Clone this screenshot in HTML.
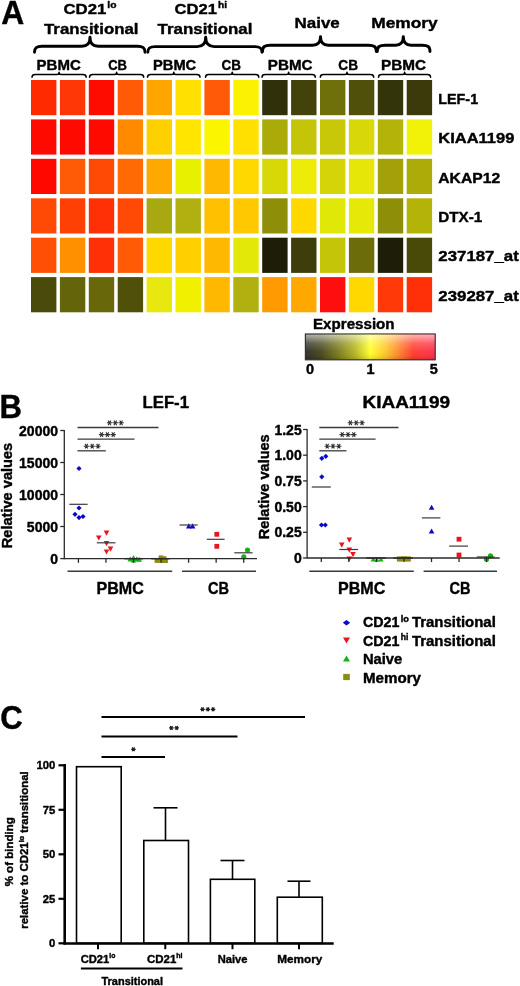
<!DOCTYPE html>
<html><head><meta charset="utf-8"><title>Figure</title>
<style>
html,body{margin:0;padding:0;background:#fff;}
svg{display:block;font-family:"Liberation Sans", sans-serif;font-weight:bold;will-change:transform;}
text{stroke:#000;stroke-width:0.4px;stroke-linejoin:round;}
</style></head>
<body>
<svg width="520" height="986" viewBox="0 0 520 986">
<defs>
<linearGradient id="cb" x1="0" x2="1" y1="0" y2="0">
<stop offset="0" stop-color="#2c2c24"/>
<stop offset="0.12" stop-color="#45451c"/>
<stop offset="0.25" stop-color="#78781c"/>
<stop offset="0.38" stop-color="#b4b420"/>
<stop offset="0.50" stop-color="#ffff28"/>
<stop offset="0.62" stop-color="#ffc428"/>
<stop offset="0.72" stop-color="#ff8428"/>
<stop offset="0.83" stop-color="#ff3a2c"/>
<stop offset="1" stop-color="#ff2c4a"/>
</linearGradient>
<linearGradient id="gloss" x1="0" x2="0" y1="0" y2="1">
<stop offset="0" stop-color="#fff" stop-opacity="0.62"/>
<stop offset="0.35" stop-color="#fff" stop-opacity="0.22"/>
<stop offset="0.7" stop-color="#fff" stop-opacity="0.04"/>
<stop offset="1" stop-color="#000" stop-opacity="0.12"/>
</linearGradient>
</defs>
<rect width="520" height="986" fill="#fff"/>
<rect x="31.0" y="80.0" width="25.4" height="35.2" fill="#FF2A00"/>
<rect x="59.9" y="80.0" width="25.4" height="35.2" fill="#FF3605"/>
<rect x="88.8" y="80.0" width="25.4" height="35.2" fill="#FF0C00"/>
<rect x="117.7" y="80.0" width="25.4" height="35.2" fill="#FF5A05"/>
<rect x="146.6" y="80.0" width="25.4" height="35.2" fill="#FFA500"/>
<rect x="175.5" y="80.0" width="25.4" height="35.2" fill="#FFE000"/>
<rect x="204.4" y="80.0" width="25.4" height="35.2" fill="#FF5A08"/>
<rect x="233.3" y="80.0" width="25.4" height="35.2" fill="#FCF200"/>
<rect x="262.2" y="80.0" width="25.4" height="35.2" fill="#30300A"/>
<rect x="291.1" y="80.0" width="25.4" height="35.2" fill="#42420A"/>
<rect x="320.0" y="80.0" width="25.4" height="35.2" fill="#70700A"/>
<rect x="348.9" y="80.0" width="25.4" height="35.2" fill="#50500A"/>
<rect x="377.8" y="80.0" width="25.4" height="35.2" fill="#34340A"/>
<rect x="406.7" y="80.0" width="25.4" height="35.2" fill="#3A3A0A"/>
<rect x="31.0" y="119.4" width="25.4" height="35.2" fill="#FF0A00"/>
<rect x="59.9" y="119.4" width="25.4" height="35.2" fill="#FF0A00"/>
<rect x="88.8" y="119.4" width="25.4" height="35.2" fill="#FF0A00"/>
<rect x="117.7" y="119.4" width="25.4" height="35.2" fill="#FF8A00"/>
<rect x="146.6" y="119.4" width="25.4" height="35.2" fill="#FFD000"/>
<rect x="175.5" y="119.4" width="25.4" height="35.2" fill="#FFE500"/>
<rect x="204.4" y="119.4" width="25.4" height="35.2" fill="#FBF600"/>
<rect x="233.3" y="119.4" width="25.4" height="35.2" fill="#FFE000"/>
<rect x="262.2" y="119.4" width="25.4" height="35.2" fill="#AAAA08"/>
<rect x="291.1" y="119.4" width="25.4" height="35.2" fill="#C4C408"/>
<rect x="320.0" y="119.4" width="25.4" height="35.2" fill="#C8C808"/>
<rect x="348.9" y="119.4" width="25.4" height="35.2" fill="#D8D808"/>
<rect x="377.8" y="119.4" width="25.4" height="35.2" fill="#B4B408"/>
<rect x="406.7" y="119.4" width="25.4" height="35.2" fill="#F2F208"/>
<rect x="31.0" y="158.8" width="25.4" height="35.2" fill="#FF0800"/>
<rect x="59.9" y="158.8" width="25.4" height="35.2" fill="#FF5A05"/>
<rect x="88.8" y="158.8" width="25.4" height="35.2" fill="#FF4A05"/>
<rect x="117.7" y="158.8" width="25.4" height="35.2" fill="#FF6A05"/>
<rect x="146.6" y="158.8" width="25.4" height="35.2" fill="#FFA800"/>
<rect x="175.5" y="158.8" width="25.4" height="35.2" fill="#E8F000"/>
<rect x="204.4" y="158.8" width="25.4" height="35.2" fill="#FFB800"/>
<rect x="233.3" y="158.8" width="25.4" height="35.2" fill="#FFD800"/>
<rect x="262.2" y="158.8" width="25.4" height="35.2" fill="#D8D808"/>
<rect x="291.1" y="158.8" width="25.4" height="35.2" fill="#ECEC08"/>
<rect x="320.0" y="158.8" width="25.4" height="35.2" fill="#D4D408"/>
<rect x="348.9" y="158.8" width="25.4" height="35.2" fill="#E6E608"/>
<rect x="377.8" y="158.8" width="25.4" height="35.2" fill="#A2A208"/>
<rect x="406.7" y="158.8" width="25.4" height="35.2" fill="#ACAC08"/>
<rect x="31.0" y="198.3" width="25.4" height="35.2" fill="#FF4A05"/>
<rect x="59.9" y="198.3" width="25.4" height="35.2" fill="#FF4005"/>
<rect x="88.8" y="198.3" width="25.4" height="35.2" fill="#FF3005"/>
<rect x="117.7" y="198.3" width="25.4" height="35.2" fill="#FF4A05"/>
<rect x="146.6" y="198.3" width="25.4" height="35.2" fill="#A8A810"/>
<rect x="175.5" y="198.3" width="25.4" height="35.2" fill="#B0B010"/>
<rect x="204.4" y="198.3" width="25.4" height="35.2" fill="#FFC000"/>
<rect x="233.3" y="198.3" width="25.4" height="35.2" fill="#FFC800"/>
<rect x="262.2" y="198.3" width="25.4" height="35.2" fill="#8E8E08"/>
<rect x="291.1" y="198.3" width="25.4" height="35.2" fill="#FFD800"/>
<rect x="320.0" y="198.3" width="25.4" height="35.2" fill="#E0E808"/>
<rect x="348.9" y="198.3" width="25.4" height="35.2" fill="#E6E808"/>
<rect x="377.8" y="198.3" width="25.4" height="35.2" fill="#8E8E08"/>
<rect x="406.7" y="198.3" width="25.4" height="35.2" fill="#B4B408"/>
<rect x="31.0" y="237.7" width="25.4" height="35.2" fill="#FF5005"/>
<rect x="59.9" y="237.7" width="25.4" height="35.2" fill="#FF9000"/>
<rect x="88.8" y="237.7" width="25.4" height="35.2" fill="#FF3005"/>
<rect x="117.7" y="237.7" width="25.4" height="35.2" fill="#FF5A05"/>
<rect x="146.6" y="237.7" width="25.4" height="35.2" fill="#FFD800"/>
<rect x="175.5" y="237.7" width="25.4" height="35.2" fill="#FFD000"/>
<rect x="204.4" y="237.7" width="25.4" height="35.2" fill="#FFB800"/>
<rect x="233.3" y="237.7" width="25.4" height="35.2" fill="#E4E808"/>
<rect x="262.2" y="237.7" width="25.4" height="35.2" fill="#1E1E08"/>
<rect x="291.1" y="237.7" width="25.4" height="35.2" fill="#3E3E0A"/>
<rect x="320.0" y="237.7" width="25.4" height="35.2" fill="#C4C408"/>
<rect x="348.9" y="237.7" width="25.4" height="35.2" fill="#6C6C0A"/>
<rect x="377.8" y="237.7" width="25.4" height="35.2" fill="#1E1E08"/>
<rect x="406.7" y="237.7" width="25.4" height="35.2" fill="#4A4A08"/>
<rect x="31.0" y="277.1" width="25.4" height="35.2" fill="#4A4A0A"/>
<rect x="59.9" y="277.1" width="25.4" height="35.2" fill="#64640A"/>
<rect x="88.8" y="277.1" width="25.4" height="35.2" fill="#68680A"/>
<rect x="117.7" y="277.1" width="25.4" height="35.2" fill="#50500A"/>
<rect x="146.6" y="277.1" width="25.4" height="35.2" fill="#E8E810"/>
<rect x="175.5" y="277.1" width="25.4" height="35.2" fill="#F0F000"/>
<rect x="204.4" y="277.1" width="25.4" height="35.2" fill="#FFB800"/>
<rect x="233.3" y="277.1" width="25.4" height="35.2" fill="#B0B010"/>
<rect x="262.2" y="277.1" width="25.4" height="35.2" fill="#FF9A00"/>
<rect x="291.1" y="277.1" width="25.4" height="35.2" fill="#FFA800"/>
<rect x="320.0" y="277.1" width="25.4" height="35.2" fill="#FF0E0E"/>
<rect x="348.9" y="277.1" width="25.4" height="35.2" fill="#FFD800"/>
<rect x="377.8" y="277.1" width="25.4" height="35.2" fill="#FF3A08"/>
<rect x="406.7" y="277.1" width="25.4" height="35.2" fill="#FF3008"/>
<text x="438.3" y="103.7" font-size="14.5" text-anchor="start" fill="#000" textLength="39.8" lengthAdjust="spacingAndGlyphs">LEF-1</text>
<text x="438.3" y="143.12" font-size="14.5" text-anchor="start" fill="#000" textLength="76" lengthAdjust="spacingAndGlyphs">KIAA1199</text>
<text x="438.3" y="182.54000000000002" font-size="14.5" text-anchor="start" fill="#000" textLength="61.8" lengthAdjust="spacingAndGlyphs">AKAP12</text>
<text x="438.3" y="221.96" font-size="14.5" text-anchor="start" fill="#000" textLength="44" lengthAdjust="spacingAndGlyphs">DTX-1</text>
<text x="438.3" y="261.38" font-size="14.5" text-anchor="start" fill="#000" textLength="80.5" lengthAdjust="spacingAndGlyphs">237187_at</text>
<text x="438.3" y="300.8" font-size="14.5" text-anchor="start" fill="#000" textLength="80.5" lengthAdjust="spacingAndGlyphs">239287_at</text>
<text x="1.3" y="24.2" font-size="33" text-anchor="start" fill="#000" textLength="23" lengthAdjust="spacingAndGlyphs">A</text>
<text x="63.5" y="13.9" font-size="15.5" textLength="53" lengthAdjust="spacingAndGlyphs">CD21<tspan font-size="9.5" dy="-6" dx="1">lo</tspan></text>
<text x="44" y="34" font-size="15.5" text-anchor="start" fill="#000" textLength="94.5" lengthAdjust="spacingAndGlyphs">Transitional</text>
<text x="174.6" y="13.9" font-size="15.5" textLength="52.5" lengthAdjust="spacingAndGlyphs">CD21<tspan font-size="9.5" dy="-6" dx="1">hi</tspan></text>
<text x="157.6" y="34" font-size="15.5" text-anchor="start" fill="#000" textLength="94.8" lengthAdjust="spacingAndGlyphs">Transitional</text>
<text x="294.5" y="27.5" font-size="15.5" text-anchor="start" fill="#000" textLength="45.3" lengthAdjust="spacingAndGlyphs">Naive</text>
<text x="371.2" y="27.5" font-size="15.5" text-anchor="start" fill="#000" textLength="66.5" lengthAdjust="spacingAndGlyphs">Memory</text>
<path d="M34.5,52.3 C34.5,47.5 36.8,46.3 42.0,46.3 L81.9,46.3 C87.2,46.3 90.0,43.1 90.0,37.3 C90.0,43.1 92.8,46.3 98.1,46.3 L137.5,46.3 C142.8,46.3 145.0,47.5 145.0,52.3" fill="none" stroke="#000" stroke-width="2.9" stroke-linecap="round" stroke-linejoin="round"/>
<path d="M147.8,52.3 C147.8,47.7 149.9,46.6 154.9,46.6 L197.3,46.6 C202.8,46.6 205.7,43.3 205.7,37.3 C205.7,43.3 208.6,46.6 214.1,46.6 L254.9,46.6 C259.9,46.6 262.0,47.7 262.0,52.3" fill="none" stroke="#000" stroke-width="2.9" stroke-linecap="round" stroke-linejoin="round"/>
<path d="M262.5,51.5 C262.5,46.5 264.8,45.3 270.2,45.3 L312.7,45.3 C317.8,45.3 320.5,42.3 320.5,36.6 C320.5,42.3 323.2,45.3 328.3,45.3 L368.6,45.3 C374.0,45.3 376.3,46.5 376.3,51.5" fill="none" stroke="#000" stroke-width="2.9" stroke-linecap="round" stroke-linejoin="round"/>
<path d="M377.3,51.5 C377.3,46.5 379.6,45.3 385.1,45.3 L395.5,45.3 C400.6,45.3 403.3,42.3 403.3,36.6 C403.3,42.3 406.0,45.3 411.1,45.3 L422.2,45.3 C427.7,45.3 430.0,46.5 430.0,51.5" fill="none" stroke="#000" stroke-width="2.9" stroke-linecap="round" stroke-linejoin="round"/>
<text x="36.6" y="69.6" font-size="14.5" text-anchor="start" fill="#000" textLength="44.2" lengthAdjust="spacingAndGlyphs">PBMC</text>
<text x="108.2" y="69.6" font-size="14.5" text-anchor="start" fill="#000" textLength="18.8" lengthAdjust="spacingAndGlyphs">CB</text>
<text x="153" y="69.6" font-size="14.5" text-anchor="start" fill="#000" textLength="43.2" lengthAdjust="spacingAndGlyphs">PBMC</text>
<text x="221.6" y="69.6" font-size="14.5" text-anchor="start" fill="#000" textLength="19.4" lengthAdjust="spacingAndGlyphs">CB</text>
<text x="267.8" y="69.6" font-size="14.5" text-anchor="start" fill="#000" textLength="44.7" lengthAdjust="spacingAndGlyphs">PBMC</text>
<text x="338.3" y="69.6" font-size="14.5" text-anchor="start" fill="#000" textLength="19.7" lengthAdjust="spacingAndGlyphs">CB</text>
<text x="381" y="69.6" font-size="14.5" text-anchor="start" fill="#000" textLength="45" lengthAdjust="spacingAndGlyphs">PBMC</text>
<path d="M32.0,77.2 C32.0,75.1 33.0,74.6 35.3,74.6 L57.0,74.6 C58.4,74.6 59.1,73.8 59.1,72.3 C59.1,73.8 59.8,74.6 61.2,74.6 L82.9,74.6 C85.2,74.6 86.2,75.1 86.2,77.2" fill="none" stroke="#000" stroke-width="1.5" stroke-linecap="round" stroke-linejoin="round"/>
<path d="M89.5,77.2 C89.5,75.1 90.5,74.6 92.8,74.6 L114.5,74.6 C115.9,74.6 116.6,73.8 116.6,72.3 C116.6,73.8 117.3,74.6 118.7,74.6 L140.4,74.6 C142.7,74.6 143.7,75.1 143.7,77.2" fill="none" stroke="#000" stroke-width="1.5" stroke-linecap="round" stroke-linejoin="round"/>
<path d="M147.5,77.2 C147.5,75.1 148.5,74.6 150.8,74.6 L171.7,74.6 C173.0,74.6 173.8,73.8 173.8,72.3 C173.8,73.8 174.5,74.6 175.8,74.6 L196.8,74.6 C199.0,74.6 200.0,75.1 200.0,77.2" fill="none" stroke="#000" stroke-width="1.5" stroke-linecap="round" stroke-linejoin="round"/>
<path d="M205.5,77.2 C205.5,75.1 206.5,74.6 208.8,74.6 L230.1,74.6 C231.4,74.6 232.2,73.8 232.2,72.3 C232.2,73.8 232.9,74.6 234.2,74.6 L255.6,74.6 C257.8,74.6 258.8,75.1 258.8,77.2" fill="none" stroke="#000" stroke-width="1.5" stroke-linecap="round" stroke-linejoin="round"/>
<path d="M262.0,77.2 C262.0,75.1 263.0,74.6 265.2,74.6 L286.6,74.6 C287.9,74.6 288.6,73.8 288.6,72.3 C288.6,73.8 289.4,74.6 290.7,74.6 L312.1,74.6 C314.3,74.6 315.3,75.1 315.3,77.2" fill="none" stroke="#000" stroke-width="1.5" stroke-linecap="round" stroke-linejoin="round"/>
<path d="M320.3,77.2 C320.3,75.1 321.3,74.6 323.6,74.6 L344.9,74.6 C346.3,74.6 347.0,73.8 347.0,72.3 C347.0,73.8 347.7,74.6 349.1,74.6 L370.4,74.6 C372.7,74.6 373.7,75.1 373.7,77.2" fill="none" stroke="#000" stroke-width="1.5" stroke-linecap="round" stroke-linejoin="round"/>
<path d="M378.5,77.2 C378.5,75.1 379.5,74.6 381.8,74.6 L402.5,74.6 C403.8,74.6 404.6,73.8 404.6,72.3 C404.6,73.8 405.3,74.6 406.6,74.6 L427.4,74.6 C429.6,74.6 430.6,75.1 430.6,77.2" fill="none" stroke="#000" stroke-width="1.5" stroke-linecap="round" stroke-linejoin="round"/>
<text x="313" y="328.6" font-size="14.5" text-anchor="start" fill="#000" textLength="81.6" lengthAdjust="spacingAndGlyphs">Expression</text>
<rect x="305.4" y="334" width="129.8" height="25.8" fill="url(#cb)" stroke="#333" stroke-width="1.2"/>
<rect x="306" y="334.6" width="128.6" height="24.6" fill="url(#gloss)"/>
<text x="310" y="373.8" font-size="14.5" text-anchor="middle" fill="#000">0</text>
<text x="370.6" y="373.8" font-size="14.5" text-anchor="middle" fill="#000">1</text>
<text x="433.7" y="373.8" font-size="14.5" text-anchor="middle" fill="#000">5</text>
<text x="-0.5" y="417.7" font-size="33" text-anchor="start" fill="#000" textLength="22.5" lengthAdjust="spacingAndGlyphs">B</text>
<text x="58" y="435.5" font-size="14" text-anchor="end" fill="#000">20000</text>
<text x="58" y="467.5" font-size="14" text-anchor="end" fill="#000">15000</text>
<text x="58" y="499.5" font-size="14" text-anchor="end" fill="#000">10000</text>
<text x="58" y="531.5" font-size="14" text-anchor="end" fill="#000">5000</text>
<text x="58" y="563.6" font-size="14" text-anchor="end" fill="#000">0</text>
<text x="142.5" y="408" font-size="17" text-anchor="start" fill="#000" textLength="46.5" lengthAdjust="spacingAndGlyphs">LEF-1</text>
<text transform="translate(12.2,495.5) rotate(-90)" font-size="14.5" text-anchor="middle" textLength="105.5" lengthAdjust="spacingAndGlyphs">Relative values</text>
<line x1="77.5" y1="427.5" x2="158.5" y2="427.5" stroke="#3a3a3a" stroke-width="1.3"/>
<path d="M108.15,420.46L110.85,425.14M110.85,420.46L108.15,425.14M106.80,422.80L112.20,422.80M113.95,420.46L116.65,425.14M116.65,420.46L113.95,425.14M112.60,422.80L118.00,422.80M119.75,420.46L122.45,425.14M122.45,420.46L119.75,425.14M118.40,422.80L123.80,422.80" stroke="#333" stroke-width="1.1" fill="none"/>
<line x1="77.5" y1="439.2" x2="134.5" y2="439.2" stroke="#3a3a3a" stroke-width="1.3"/>
<path d="M100.25,432.26L102.95,436.94M102.95,432.26L100.25,436.94M98.90,434.60L104.30,434.60M106.05,432.26L108.75,436.94M108.75,432.26L106.05,436.94M104.70,434.60L110.10,434.60M111.85,432.26L114.55,436.94M114.55,432.26L111.85,436.94M110.50,434.60L115.90,434.60" stroke="#333" stroke-width="1.1" fill="none"/>
<line x1="77.5" y1="450.8" x2="105.8" y2="450.8" stroke="#3a3a3a" stroke-width="1.3"/>
<path d="M85.05,443.86L87.75,448.54M87.75,443.86L85.05,448.54M83.70,446.20L89.10,446.20M90.85,443.86L93.55,448.54M93.55,443.86L90.85,448.54M89.50,446.20L94.90,446.20M96.65,443.86L99.35,448.54M99.35,443.86L96.65,448.54M95.30,446.20L100.70,446.20" stroke="#333" stroke-width="1.1" fill="none"/>
<line x1="67.5" y1="571.3" x2="172.2" y2="571.3" stroke="#3a3a3a" stroke-width="1.4"/>
<line x1="182" y1="571.3" x2="256" y2="571.3" stroke="#3a3a3a" stroke-width="1.4"/>
<text x="96.5" y="593.8" font-size="16.5" text-anchor="start" fill="#000" textLength="47.3" lengthAdjust="spacingAndGlyphs">PBMC</text>
<text x="208" y="593.8" font-size="16.5" text-anchor="start" fill="#000" textLength="21" lengthAdjust="spacingAndGlyphs">CB</text>
<path d="M79,465.9 L81.6,468.5 L79,471.1 L76.4,468.5 Z" fill="#0A0ACD"/>
<path d="M79,505.4 L81.6,508 L79,510.6 L76.4,508 Z" fill="#0A0ACD"/>
<path d="M75,511.69999999999993 L77.6,514.3 L75,516.9 L72.4,514.3 Z" fill="#0A0ACD"/>
<path d="M79,515.0 L81.6,517.6 L79,520.2 L76.4,517.6 Z" fill="#0A0ACD"/>
<path d="M83,513.9 L85.6,516.5 L83,519.1 L80.4,516.5 Z" fill="#0A0ACD"/>
<line x1="69.3" y1="504.3" x2="87.6" y2="504.3" stroke="#3a3a3a" stroke-width="1.2"/>
<path d="M103.7,530.62 L109.3,530.62 L106.5,535.66 Z" fill="#E8141E"/>
<path d="M96.0,535.42 L101.6,535.42 L98.8,540.4599999999999 Z" fill="#E8141E"/>
<path d="M103.7,541.12 L109.3,541.12 L106.5,546.16 Z" fill="#E8141E"/>
<path d="M107.7,546.62 L113.3,546.62 L110.5,551.66 Z" fill="#E8141E"/>
<path d="M103.7,549.42 L109.3,549.42 L106.5,554.4599999999999 Z" fill="#E8141E"/>
<line x1="96.8" y1="542.8" x2="115.5" y2="542.8" stroke="#3a3a3a" stroke-width="1.2"/>
<path d="M127.50000000000001,561.38 L133.10000000000002,561.38 L130.3,556.34 Z" fill="#14B414"/>
<path d="M130.7,559.98 L136.3,559.98 L133.5,554.94 Z" fill="#14B414"/>
<path d="M134.0,561.38 L139.60000000000002,561.38 L136.8,556.34 Z" fill="#14B414"/>
<path d="M136.39999999999998,561.68 L142.0,561.68 L139.2,556.64 Z" fill="#14B414"/>
<path d="M130.7,562.58 L136.3,562.58 L133.5,557.5400000000001 Z" fill="#14B414"/>
<line x1="124.4" y1="558.7" x2="143.1" y2="558.7" stroke="#3a3a3a" stroke-width="1.5"/>
<rect x="154.6" y="558.1" width="4.8" height="4.8" fill="#8C8C14"/>
<rect x="158.6" y="555.4" width="4.8" height="4.8" fill="#8C8C14"/>
<rect x="159.1" y="558.2" width="4.8" height="4.8" fill="#8C8C14"/>
<rect x="163.1" y="558.2" width="4.8" height="4.8" fill="#8C8C14"/>
<rect x="161.6" y="556.2" width="4.8" height="4.8" fill="#8C8C14"/>
<line x1="151.3" y1="558.7" x2="170" y2="558.7" stroke="#3a3a3a" stroke-width="1.5"/>
<path d="M186.0,528.38 L191.60000000000002,528.38 L188.8,523.34 Z" fill="#0A0ACD"/>
<path d="M189.79999999999998,528.38 L195.4,528.38 L192.6,523.34 Z" fill="#0A0ACD"/>
<line x1="179.5" y1="525" x2="197.6" y2="525" stroke="#3a3a3a" stroke-width="1.2"/>
<rect x="214.4" y="531.9" width="4.8" height="4.8" fill="#E8141E"/>
<rect x="214.4" y="543.9" width="4.8" height="4.8" fill="#E8141E"/>
<line x1="206.8" y1="539.3" x2="224.6" y2="539.3" stroke="#3a3a3a" stroke-width="1.2"/>
<circle cx="247.5" cy="550" r="2.6" fill="#14B414"/>
<circle cx="243.8" cy="556.8" r="2.6" fill="#14B414"/>
<line x1="234.3" y1="552.8" x2="252.6" y2="552.8" stroke="#3a3a3a" stroke-width="1.2"/>
<line x1="64.3" y1="429.9" x2="64.3" y2="559.3000000000001" stroke="#2a2a2a" stroke-width="1.3"/>
<line x1="64.3" y1="558.7" x2="257" y2="558.7" stroke="#2a2a2a" stroke-width="1.3"/>
<line x1="60.3" y1="430.5" x2="64.3" y2="430.5" stroke="#2a2a2a" stroke-width="1.3"/>
<line x1="60.3" y1="462.5" x2="64.3" y2="462.5" stroke="#2a2a2a" stroke-width="1.3"/>
<line x1="60.3" y1="494.5" x2="64.3" y2="494.5" stroke="#2a2a2a" stroke-width="1.3"/>
<line x1="60.3" y1="526.5" x2="64.3" y2="526.5" stroke="#2a2a2a" stroke-width="1.3"/>
<line x1="60.3" y1="558.6" x2="64.3" y2="558.6" stroke="#2a2a2a" stroke-width="1.3"/>
<line x1="78.4" y1="558.7" x2="78.4" y2="562.8000000000001" stroke="#2a2a2a" stroke-width="1.3"/>
<line x1="105.95" y1="558.7" x2="105.95" y2="562.8000000000001" stroke="#2a2a2a" stroke-width="1.3"/>
<line x1="133.5" y1="558.7" x2="133.5" y2="562.8000000000001" stroke="#2a2a2a" stroke-width="1.3"/>
<line x1="161.05" y1="558.7" x2="161.05" y2="562.8000000000001" stroke="#2a2a2a" stroke-width="1.3"/>
<line x1="188.60000000000002" y1="558.7" x2="188.60000000000002" y2="562.8000000000001" stroke="#2a2a2a" stroke-width="1.3"/>
<line x1="216.15" y1="558.7" x2="216.15" y2="562.8000000000001" stroke="#2a2a2a" stroke-width="1.3"/>
<line x1="243.70000000000002" y1="558.7" x2="243.70000000000002" y2="562.8000000000001" stroke="#2a2a2a" stroke-width="1.3"/>
<text x="301.7" y="434.5" font-size="14" text-anchor="end" fill="#000">1.25</text>
<text x="301.7" y="460.2" font-size="14" text-anchor="end" fill="#000">1.00</text>
<text x="301.7" y="485.9" font-size="14" text-anchor="end" fill="#000">0.75</text>
<text x="301.7" y="511.6" font-size="14" text-anchor="end" fill="#000">0.50</text>
<text x="301.7" y="537.3" font-size="14" text-anchor="end" fill="#000">0.25</text>
<text x="301.7" y="563.0" font-size="14" text-anchor="end" fill="#000">0</text>
<text x="362.5" y="408" font-size="17" text-anchor="start" fill="#000" textLength="87.5" lengthAdjust="spacingAndGlyphs">KIAA1199</text>
<text transform="translate(268.5,486.8) rotate(-90)" font-size="14.5" text-anchor="middle" textLength="105" lengthAdjust="spacingAndGlyphs">Relative values</text>
<line x1="319.3" y1="427.5" x2="398.5" y2="427.5" stroke="#3a3a3a" stroke-width="1.3"/>
<path d="M349.05,420.46L351.75,425.14M351.75,420.46L349.05,425.14M347.70,422.80L353.10,422.80M354.85,420.46L357.55,425.14M357.55,420.46L354.85,425.14M353.50,422.80L358.90,422.80M360.65,420.46L363.35,425.14M363.35,420.46L360.65,425.14M359.30,422.80L364.70,422.80" stroke="#333" stroke-width="1.1" fill="none"/>
<line x1="319.3" y1="439.2" x2="375.6" y2="439.2" stroke="#3a3a3a" stroke-width="1.3"/>
<path d="M340.85,432.26L343.55,436.94M343.55,432.26L340.85,436.94M339.50,434.60L344.90,434.60M346.65,432.26L349.35,436.94M349.35,432.26L346.65,436.94M345.30,434.60L350.70,434.60M352.45,432.26L355.15,436.94M355.15,432.26L352.45,436.94M351.10,434.60L356.50,434.60" stroke="#333" stroke-width="1.1" fill="none"/>
<line x1="319.3" y1="450.8" x2="346.4" y2="450.8" stroke="#3a3a3a" stroke-width="1.3"/>
<path d="M325.85,443.86L328.55,448.54M328.55,443.86L325.85,448.54M324.50,446.20L329.90,446.20M331.65,443.86L334.35,448.54M334.35,443.86L331.65,448.54M330.30,446.20L335.70,446.20M337.45,443.86L340.15,448.54M340.15,443.86L337.45,448.54M336.10,446.20L341.50,446.20" stroke="#333" stroke-width="1.1" fill="none"/>
<line x1="309.3" y1="571.3" x2="413.8" y2="571.3" stroke="#3a3a3a" stroke-width="1.4"/>
<line x1="423.6" y1="571.3" x2="497" y2="571.3" stroke="#3a3a3a" stroke-width="1.4"/>
<text x="338" y="593.8" font-size="16.5" text-anchor="start" fill="#000" textLength="47.3" lengthAdjust="spacingAndGlyphs">PBMC</text>
<text x="449.6" y="593.8" font-size="16.5" text-anchor="start" fill="#000" textLength="21" lengthAdjust="spacingAndGlyphs">CB</text>
<path d="M321.8,455.7 L324.40000000000003,458.3 L321.8,460.90000000000003 L319.2,458.3 Z" fill="#0A0ACD"/>
<path d="M325.8,453.7 L328.40000000000003,456.3 L325.8,458.90000000000003 L323.2,456.3 Z" fill="#0A0ACD"/>
<path d="M321.8,474.2 L324.40000000000003,476.8 L321.8,479.40000000000003 L319.2,476.8 Z" fill="#0A0ACD"/>
<path d="M321.5,522.4 L324.1,525 L321.5,527.6 L318.9,525 Z" fill="#0A0ACD"/>
<path d="M325.3,522.4 L327.90000000000003,525 L325.3,527.6 L322.7,525 Z" fill="#0A0ACD"/>
<line x1="311.8" y1="487" x2="330.8" y2="487" stroke="#3a3a3a" stroke-width="1.2"/>
<path d="M346.5,537.62 L352.1,537.62 L349.3,542.66 Z" fill="#E8141E"/>
<path d="M339.0,542.62 L344.6,542.62 L341.8,547.66 Z" fill="#E8141E"/>
<path d="M346.5,547.62 L352.1,547.62 L349.3,552.66 Z" fill="#E8141E"/>
<path d="M350.2,552.12 L355.8,552.12 L353,557.16 Z" fill="#E8141E"/>
<path d="M346.5,556.42 L352.1,556.42 L349.3,561.4599999999999 Z" fill="#E8141E"/>
<line x1="339.3" y1="549.5" x2="358" y2="549.5" stroke="#3a3a3a" stroke-width="1.2"/>
<path d="M370.59999999999997,561.51 L375.8,561.51 L373.2,556.8299999999999 Z" fill="#14B414"/>
<path d="M374.4,561.8100000000001 L379.6,561.8100000000001 L377,557.13 Z" fill="#14B414"/>
<path d="M378.4,561.51 L383.6,561.51 L381,556.8299999999999 Z" fill="#14B414"/>
<line x1="366.3" y1="558.0" x2="386" y2="558.0" stroke="#3a3a3a" stroke-width="1.5"/>
<rect x="396.9" y="556.4" width="5.2" height="5.2" fill="#8C8C14"/>
<rect x="401.2" y="556.1999999999999" width="5.2" height="5.2" fill="#8C8C14"/>
<rect x="405.59999999999997" y="556.4" width="5.2" height="5.2" fill="#8C8C14"/>
<line x1="393.5" y1="558.0" x2="413" y2="558.0" stroke="#3a3a3a" stroke-width="1.5"/>
<path d="M428.8,509.68 L434.40000000000003,509.68 L431.6,504.64 Z" fill="#0A0ACD"/>
<path d="M428.8,533.48 L434.40000000000003,533.48 L431.6,528.44 Z" fill="#0A0ACD"/>
<line x1="421.9" y1="517.9" x2="440.4" y2="517.9" stroke="#3a3a3a" stroke-width="1.2"/>
<rect x="456.6" y="536.8000000000001" width="4.8" height="4.8" fill="#E8141E"/>
<rect x="456.6" y="552.6" width="4.8" height="4.8" fill="#E8141E"/>
<line x1="449.2" y1="546.1" x2="468" y2="546.1" stroke="#3a3a3a" stroke-width="1.2"/>
<circle cx="490.5" cy="555.8" r="2.6" fill="#14B414"/>
<circle cx="486.5" cy="559.2" r="2.6" fill="#14B414"/>
<line x1="476.8" y1="557" x2="494.6" y2="557" stroke="#3a3a3a" stroke-width="1.2"/>
<line x1="307.1" y1="428.9" x2="307.1" y2="558.6" stroke="#2a2a2a" stroke-width="1.3"/>
<line x1="307.1" y1="558.0" x2="499.7" y2="558.0" stroke="#2a2a2a" stroke-width="1.3"/>
<line x1="303.1" y1="429.5" x2="307.1" y2="429.5" stroke="#2a2a2a" stroke-width="1.3"/>
<line x1="303.1" y1="455.2" x2="307.1" y2="455.2" stroke="#2a2a2a" stroke-width="1.3"/>
<line x1="303.1" y1="480.9" x2="307.1" y2="480.9" stroke="#2a2a2a" stroke-width="1.3"/>
<line x1="303.1" y1="506.6" x2="307.1" y2="506.6" stroke="#2a2a2a" stroke-width="1.3"/>
<line x1="303.1" y1="532.3" x2="307.1" y2="532.3" stroke="#2a2a2a" stroke-width="1.3"/>
<line x1="303.1" y1="558.0" x2="307.1" y2="558.0" stroke="#2a2a2a" stroke-width="1.3"/>
<line x1="321.3" y1="558.0" x2="321.3" y2="562.1" stroke="#2a2a2a" stroke-width="1.3"/>
<line x1="348.85" y1="558.0" x2="348.85" y2="562.1" stroke="#2a2a2a" stroke-width="1.3"/>
<line x1="376.40000000000003" y1="558.0" x2="376.40000000000003" y2="562.1" stroke="#2a2a2a" stroke-width="1.3"/>
<line x1="403.95000000000005" y1="558.0" x2="403.95000000000005" y2="562.1" stroke="#2a2a2a" stroke-width="1.3"/>
<line x1="431.5" y1="558.0" x2="431.5" y2="562.1" stroke="#2a2a2a" stroke-width="1.3"/>
<line x1="459.05" y1="558.0" x2="459.05" y2="562.1" stroke="#2a2a2a" stroke-width="1.3"/>
<line x1="486.6" y1="558.0" x2="486.6" y2="562.1" stroke="#2a2a2a" stroke-width="1.3"/>
<path d="M342.8,622.8 L346.5,620 L350.2,622.8 L346.5,625.6 Z" fill="#0A0ACD"/>
<path d="M343.0,637.6 L350.0,637.6 L346.5,643.4 Z" fill="#E8141E"/>
<path d="M343.0,661.4 L350.0,661.4 L346.5,655.6 Z" fill="#14B414"/>
<rect x="343.2" y="673.9" width="6.6" height="6.2" fill="#8C8C14"/>
<text x="362.9" y="627.3" font-size="14.5" text-anchor="start" fill="#000" textLength="36.5" lengthAdjust="spacingAndGlyphs">CD21</text>
<text x="400.8" y="621.6999999999999" font-size="8.8" text-anchor="start" fill="#000" textLength="8.2" lengthAdjust="spacingAndGlyphs">lo</text>
<text x="411.9" y="627.3" font-size="14.5" text-anchor="start" fill="#000" textLength="83.9" lengthAdjust="spacingAndGlyphs">Transitional</text>
<text x="362.9" y="646" font-size="14.5" text-anchor="start" fill="#000" textLength="36.5" lengthAdjust="spacingAndGlyphs">CD21</text>
<text x="400.8" y="640.4" font-size="8.8" text-anchor="start" fill="#000" textLength="7.6" lengthAdjust="spacingAndGlyphs">hi</text>
<text x="411.9" y="646" font-size="14.5" text-anchor="start" fill="#000" textLength="83.9" lengthAdjust="spacingAndGlyphs">Transitional</text>
<text x="362.9" y="663.8" font-size="14.5" text-anchor="start" fill="#000" textLength="39.4" lengthAdjust="spacingAndGlyphs">Naive</text>
<text x="362.9" y="682.5" font-size="14.5" text-anchor="start" fill="#000" textLength="58.1" lengthAdjust="spacingAndGlyphs">Memory</text>
<text x="0.2" y="729.3" font-size="33" text-anchor="start" fill="#000" textLength="22.5" lengthAdjust="spacingAndGlyphs">C</text>
<line x1="101.5" y1="717" x2="305" y2="717" stroke="#000" stroke-width="2"/>
<path d="M201.38,707.35L203.62,711.25M203.62,707.35L201.38,711.25M200.25,709.30L204.75,709.30M206.68,707.35L208.93,711.25M208.93,707.35L206.68,711.25M205.55,709.30L210.05,709.30M211.97,707.35L214.22,711.25M214.22,707.35L211.97,711.25M210.85,709.30L215.35,709.30" stroke="#1a1a1a" stroke-width="1.2" fill="none"/>
<line x1="101.5" y1="736.5" x2="237.5" y2="736.5" stroke="#000" stroke-width="2"/>
<path d="M170.22,725.95L172.47,729.85M172.47,725.95L170.22,729.85M169.10,727.90L173.60,727.90M175.53,725.95L177.78,729.85M177.78,725.95L175.53,729.85M174.40,727.90L178.90,727.90" stroke="#1a1a1a" stroke-width="1.2" fill="none"/>
<line x1="101.5" y1="757" x2="165" y2="757" stroke="#000" stroke-width="2"/>
<path d="M132.28,747.35L134.53,751.25M134.53,747.35L132.28,751.25M131.15,749.30L135.65,749.30" stroke="#1a1a1a" stroke-width="1.2" fill="none"/>
<rect x="76.5" y="766.7" width="44.7" height="176.5999999999999" fill="#fff" stroke="#000" stroke-width="1.6"/>
<line x1="165.5" y1="807.8" x2="165.5" y2="840.5" stroke="#000" stroke-width="1.6"/>
<line x1="153.5" y1="807.8" x2="177.5" y2="807.8" stroke="#000" stroke-width="1.6"/>
<rect x="143.8" y="840.5" width="44.69999999999999" height="102.79999999999995" fill="#fff" stroke="#000" stroke-width="1.6"/>
<line x1="232.5" y1="860.5" x2="232.5" y2="879.3" stroke="#000" stroke-width="1.6"/>
<line x1="220.5" y1="860.5" x2="244.5" y2="860.5" stroke="#000" stroke-width="1.6"/>
<rect x="210.4" y="879.3" width="44.400000000000006" height="64.0" fill="#fff" stroke="#000" stroke-width="1.6"/>
<line x1="299" y1="881.2" x2="299" y2="897.2" stroke="#000" stroke-width="1.6"/>
<line x1="287.5" y1="881.2" x2="310.5" y2="881.2" stroke="#000" stroke-width="1.6"/>
<rect x="277.3" y="897.2" width="45.0" height="46.09999999999991" fill="#fff" stroke="#000" stroke-width="1.6"/>
<line x1="64.7" y1="764" x2="64.7" y2="944.5" stroke="#000" stroke-width="2.6"/>
<line x1="63.5" y1="943.5" x2="333.7" y2="943.5" stroke="#000" stroke-width="2.5"/>
<line x1="58.5" y1="765.3" x2="65" y2="765.3" stroke="#000" stroke-width="2.2"/>
<text x="55.3" y="769.3" font-size="11.3" text-anchor="end" fill="#000">100</text>
<line x1="58.5" y1="809.8" x2="65" y2="809.8" stroke="#000" stroke-width="2.2"/>
<text x="55.3" y="813.8" font-size="11.3" text-anchor="end" fill="#000">75</text>
<line x1="58.5" y1="854.3" x2="65" y2="854.3" stroke="#000" stroke-width="2.2"/>
<text x="55.3" y="858.3" font-size="11.3" text-anchor="end" fill="#000">50</text>
<line x1="58.5" y1="898.8" x2="65" y2="898.8" stroke="#000" stroke-width="2.2"/>
<text x="55.3" y="902.8" font-size="11.3" text-anchor="end" fill="#000">25</text>
<line x1="58.5" y1="943.3" x2="65" y2="943.3" stroke="#000" stroke-width="2.2"/>
<text x="55.3" y="947.3" font-size="11.3" text-anchor="end" fill="#000">0</text>
<line x1="98" y1="943.3" x2="98" y2="949.1999999999999" stroke="#000" stroke-width="2.0"/>
<line x1="165.3" y1="943.3" x2="165.3" y2="949.1999999999999" stroke="#000" stroke-width="2.0"/>
<line x1="232.5" y1="943.3" x2="232.5" y2="949.1999999999999" stroke="#000" stroke-width="2.0"/>
<line x1="299" y1="943.3" x2="299" y2="949.1999999999999" stroke="#000" stroke-width="2.0"/>
<text x="80.7" y="962.6" font-size="11.5" textLength="34.7" lengthAdjust="spacingAndGlyphs">CD21<tspan font-size="7" dy="-4.5">lo</tspan></text>
<text x="147" y="962.6" font-size="11.5" textLength="35.5" lengthAdjust="spacingAndGlyphs">CD21<tspan font-size="7" dy="-4.5">hi</tspan></text>
<text x="217.7" y="962.6" font-size="11.5" text-anchor="start" fill="#000" textLength="29.8" lengthAdjust="spacingAndGlyphs">Naive</text>
<text x="277.3" y="962.6" font-size="11.5" text-anchor="start" fill="#000" textLength="45" lengthAdjust="spacingAndGlyphs">Memory</text>
<line x1="80.9" y1="968.4" x2="182.5" y2="968.4" stroke="#000" stroke-width="2.0"/>
<text x="101.5" y="984.6" font-size="11.5" text-anchor="start" fill="#000" textLength="61.5" lengthAdjust="spacingAndGlyphs">Transitional</text>
<text transform="translate(13.2,851.8) rotate(-90)" font-size="11.5" text-anchor="middle" textLength="69" lengthAdjust="spacingAndGlyphs">% of binding</text>
<text transform="translate(28,850) rotate(-90)" font-size="11.5" text-anchor="middle" textLength="157.5" lengthAdjust="spacingAndGlyphs">relative to CD21<tspan font-size="7" dy="-4">lo</tspan><tspan dy="4"> transitional</tspan></text>
</svg>
</body></html>
